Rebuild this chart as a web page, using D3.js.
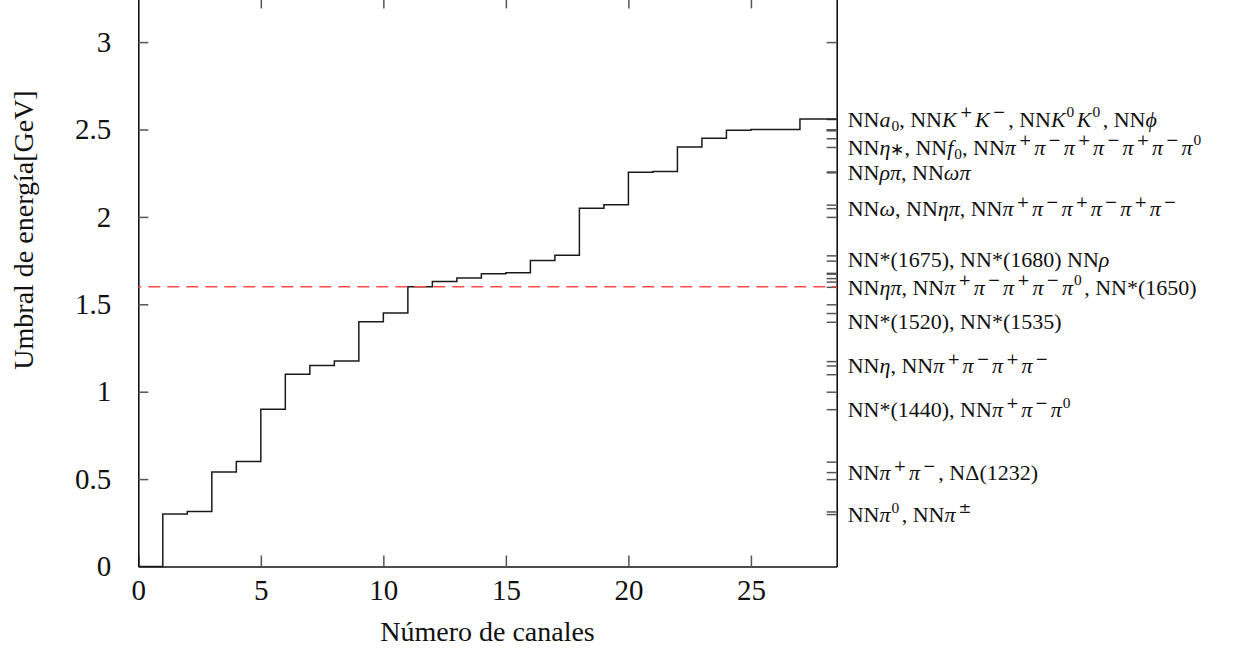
<!DOCTYPE html>
<html>
<head>
<meta charset="utf-8">
<script src="https://cdn.jsdelivr.net/npm/d3@7"></script>
<style>
  html, body { margin: 0; padding: 0; background: #fff; }
  svg { display: block; }
  text { font-family: "Liberation Serif", "Times New Roman", serif; fill: #111; }
</style>
</head>
<body>
<svg id="chart" width="1245" height="648"></svg>
<script>
// Reaction channels, ordered by their energy threshold (GeV)
const channels = d3.range(1, 28);
const thresholds = [0.30, 0.315, 0.54, 0.60, 0.90, 1.10, 1.15, 1.175, 1.40, 1.45,
                    1.60, 1.63, 1.65, 1.675, 1.68, 1.75, 1.78, 2.05, 2.07, 2.255,
                    2.26, 2.40, 2.45, 2.495, 2.50, 2.50, 2.56];
const xTicks = [0, 5, 10, 15, 20, 25];
const yTicks = [0, 0.5, 1, 1.5, 2, 2.5, 3];
const xDomain = [0, 28.5];
const yDomain = [0, 3.25];
const cutoffEnergy = 1.6;

// Channel names, anchored at the threshold they describe.
// $...$ = math (italic letters), ^x / _x = super/subscript
const labelEnergies = [2.56, 2.40, 2.255, 2.05, 1.76, 1.60, 1.40, 1.15, 0.90, 0.54, 0.30];
const labelTexts = [
  "NN$a_0$, NN$K^+K^−$, NN$K^0K^0$, NN$ϕ$",
  "NN$η$∗, NN$f_0$, NN$π^+π^−π^+π^−π^+π^−π^0$",
  "NN$ρπ$, NN$ωπ$",
  "NN$ω$, NN$ηπ$, NN$π^+π^−π^+π^−π^+π^−$",
  "NN*(1675), NN*(1680) NN$ρ$",
  "NN$ηπ$, NN$π^+π^−π^+π^−π^0$, NN*(1650)",
  "NN*(1520), NN*(1535)",
  "NN$η$, NN$π^+π^−π^+π^−$",
  "NN*(1440), NN$π^+π^−π^0$",
  "NN$π^+π^−$, NΔ(1232)",
  "NN$π^0$, NN$π^±$"
];

const svg = d3.select("#chart");
const left = 138.3, right = 836.7, bottom = 566.5, unitY = 174.8;
const x = d3.scaleLinear().domain(xDomain).range([left, right]);
const y = d3.scaleLinear().domain(yDomain).range([bottom, bottom - unitY * yDomain[1]]);

const tickColor = "#555";
const tickFont = 29;
function styleAxis(g) {
  g.selectAll(".tick line").attr("stroke", tickColor).attr("stroke-width", 1.5);
  g.select(".domain").attr("stroke", "#111").attr("stroke-width", 1.6);
  g.selectAll("text").attr("font-family", "Liberation Serif").attr("font-size", tickFont).attr("fill", "#111");
}

// bottom axis (ticks pointing inwards)
svg.append("g").attr("transform", `translate(0,${bottom})`)
  .call(d3.axisBottom(x).tickValues(xTicks).tickFormat(d3.format("d"))
    .tickSizeInner(-11).tickSizeOuter(0).tickPadding(13))
  .call(styleAxis);

// top axis: mirrored ticks only
svg.append("g").attr("transform", `translate(0,${y(yDomain[1])})`)
  .call(d3.axisTop(x).tickValues(xTicks.filter(d => d > 0)).tickFormat("")
    .tickSizeInner(-10).tickSizeOuter(0))
  .call(styleAxis);

// left axis
svg.append("g").attr("transform", `translate(${left},0)`)
  .call(d3.axisLeft(y).tickValues(yTicks).tickFormat(d3.format("~g"))
    .tickSizeInner(-10).tickSizeOuter(0).tickPadding(27))
  .call(styleAxis)
  .call(g => g.selectAll(".tick").filter(d => d === 0).select("line").remove());

// right axis: mirrored major ticks plus one tick per channel threshold
svg.append("g").attr("transform", `translate(${right},0)`)
  .call(d3.axisLeft(y).tickValues(yTicks.filter(d => d > 0).concat(thresholds)).tickFormat("")
    .tickSizeInner(10).tickSizeOuter(0))
  .call(styleAxis);

// threshold step curve
const stepPoints = [[0, 0]].concat(channels.map((c, i) => [c, thresholds[i]]))
  .concat([[xDomain[1], thresholds[thresholds.length - 1]]]);
svg.append("path")
  .datum(stepPoints)
  .attr("fill", "none")
  .attr("stroke", "#1a1a1a")
  .attr("stroke-width", 1.5)
  .attr("d", d3.line().x(d => x(d[0])).y(d => y(d[1])).curve(d3.curveStepAfter));

// reference energy line
svg.append("line")
  .attr("x1", x(xDomain[0])).attr("x2", x(xDomain[1]))
  .attr("y1", y(cutoffEnergy)).attr("y2", y(cutoffEnergy))
  .attr("stroke", "#ff4a4a").attr("stroke-width", 1.6)
  .attr("stroke-dasharray", "12,7").attr("stroke-dashoffset", -10);

// axis titles
svg.append("text")
  .attr("x", (left + right) / 2).attr("y", 641)
  .attr("text-anchor", "middle").attr("font-size", 28)
  .text("Número de canales");
svg.append("text")
  .attr("transform", "translate(33,230) rotate(-90)")
  .attr("text-anchor", "middle").attr("font-size", 28)
  .text("Umbral de energía[GeV]");

// small markup parser for channel names
function parseMarkup(str) {
  const segs = [];
  let math = false;
  const chars = Array.from(str);
  for (let i = 0; i < chars.length; i++) {
    const c = chars[i];
    if (c === "$") { math = !math; continue; }
    if ((c === "^" || c === "_") && i + 1 < chars.length) {
      const shift = c === "^" ? "sup" : "sub";
      let content = "";
      if (chars[i + 1] === "{") {
        let j = i + 2;
        while (j < chars.length && chars[j] !== "}") { content += chars[j]; j++; }
        i = j;
      } else { content = chars[i + 1]; i += 1; }
      segs.push({ t: content, italic: math && /\p{L}/u.test(content), shift });
      continue;
    }
    if (c === "∗") { segs.push({ t: c, italic: false, shift: "star" }); continue; }
    const italic = math && /\p{L}/u.test(c);
    const last = segs[segs.length - 1];
    if (last && last.italic === italic && last.shift === "none") last.t += c;
    else segs.push({ t: c, italic, shift: "none" });
  }
  return segs;
}

const labelSize = 22;
const labelG = svg.append("g");
labelTexts.forEach((txt, k) => {
  const t = labelG.append("text")
    .attr("x", right + 11)
    .attr("y", y(labelEnergies[k]))
    .attr("dy", "0.35em")
    .attr("font-size", labelSize);
  let cur = 0;
  let prevScript = false;
  parseMarkup(txt).forEach(s => {
    const isScript = s.shift === "sup" || s.shift === "sub";
    const target = s.shift === "sup" ? -0.42 * labelSize : s.shift === "sub" ? 0.18 * labelSize : 0;
    const isSign = /[+−±]/.test(s.t);
    const sp = t.append("tspan")
      .attr("font-style", s.italic ? "italic" : "normal")
      .attr("font-size", !isScript ? (s.shift === "star" ? labelSize * 0.75 : labelSize) : labelSize * 0.7)
      .text(s.t);
    let dx = 0;
    if (isScript) dx += isSign ? 3 : 1;
    if (isSign && isScript) sp.attr("font-family", "DejaVu Serif");
    if (prevScript) dx += 2.5;
    if (dx) sp.attr("dx", dx);
    if (target !== cur) sp.attr("dy", target - cur);
    cur = target;
    prevScript = isScript && s.shift === "sup";
  });
});
</script>
</body>
</html>
